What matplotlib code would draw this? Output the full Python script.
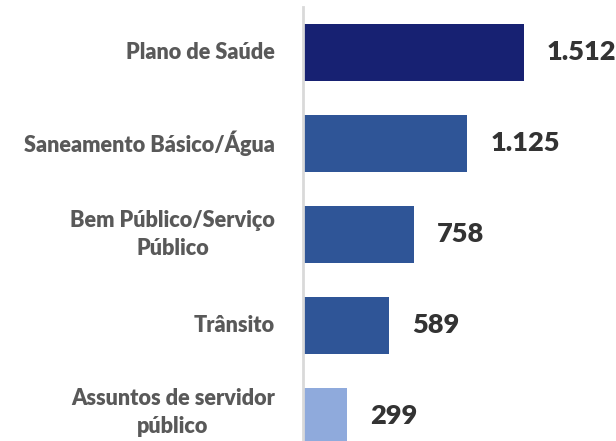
import matplotlib
matplotlib.use("Agg")
import matplotlib.pyplot as plt
from matplotlib import transforms

# chart data
categories = ["Plano de Saúde", "Saneamento Básico/Água", "Bem Público/Serviço\nPúblico",
              "Trânsito", "Assuntos de servidor\npúblico"]
values = [1512, 1125, 758, 589, 299]
value_labels = ["1.512", "1.125", "758", "589", "299"]
colors = ["#172172", "#2F5597", "#2F5597", "#2F5597", "#8FAADC"]

plt.rcParams['font.family'] = ['Lato', 'DejaVu Sans']

W, H = 616, 441
fig = plt.figure(figsize=(W / 100, H / 100), dpi=100)
# axes from the vertical line (x=303) to the right edge, top y=7 down to bottom
ax = fig.add_axes([303 / W, 0, 1 - 303 / W, (H - 7) / H])

ypos = list(range(len(categories)))
ax.barh(ypos, values, height=0.63, color=colors)
ax.set_xlim(0, 2141)
ax.set_ylim(4.27, -0.5)

for s in ["top", "right", "bottom"]:
    ax.spines[s].set_visible(False)
ax.spines["left"].set_color("#D9D9D9")
ax.spines["left"].set_linewidth(2)
ax.set_xticks([])
ax.set_yticks([])

# category labels left of the axis line (last one nudged up so it fits)
for i, (y, cat) in enumerate(zip(ypos, categories)):
    dy = 4 if i == len(categories) - 1 else 0
    tr = transforms.offset_copy(ax.get_yaxis_transform(), fig=fig, x=-28, y=dy, units="dots")
    ax.text(0, y, cat, transform=tr, ha="right", va="center", multialignment="center",
            fontsize=15.6, fontweight="heavy", color="#595959", linespacing=1.4)

# value labels, shifted a fixed number of pixels to the right of the bar end
offset = transforms.offset_copy(ax.transData, fig=fig, x=23, y=0, units="dots")
for y, v, lab in zip(ypos, values, value_labels):
    ax.text(v, y, lab, transform=offset, ha="left", va="center",
            fontsize=19.5, fontweight="heavy", color="#333333")

fig.savefig("out.png", dpi=100)
